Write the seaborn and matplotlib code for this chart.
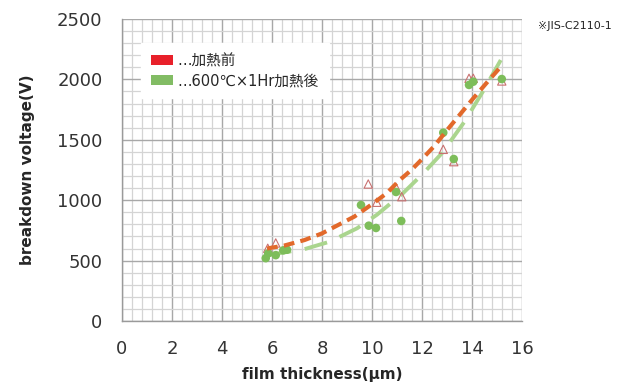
import matplotlib
matplotlib.use("Agg")
import matplotlib.pyplot as plt
from matplotlib.patches import Patch
from matplotlib.ticker import MultipleLocator
import numpy as np
import pandas as pd
import seaborn as sns

# before heating (triangles)
before_x = [5.83, 6.15, 9.85, 10.19, 10.96, 11.19, 12.85, 13.27, 13.88, 14.05, 15.19]
before_y = [602, 646, 1134, 983, 1107, 1029, 1421, 1319, 2009, 2009, 1987]

# after 600C x 1Hr heating (circles)
after_x = [5.75, 5.85, 6.15, 6.45, 6.6, 9.56, 9.87, 10.16, 10.96, 11.17, 12.85, 13.27, 13.88, 14.05, 15.19]
after_y = [520, 560, 545, 585, 590, 960, 789, 770, 1068, 828, 1559, 1341, 1954, 1981, 2003]

# trend lines
trend_before_x = [5.8, 6.5, 7.3, 8.0, 8.65, 9.3, 10.05, 10.6, 11.1, 11.6, 12.0, 12.5, 13.0, 13.5, 14.05, 14.6, 15.15]
trend_before_y = [600, 625, 670, 725, 795, 865, 974, 1060, 1165, 1255, 1340, 1450, 1580, 1705, 1843, 1975, 2105]
trend_after_x = [5.85, 6.5, 7.3, 8.3, 9.4, 10.2, 11.25, 12.05, 12.8, 13.7, 14.45, 15.15]
trend_after_y = [545, 568, 595, 656, 767, 880, 1060, 1222, 1390, 1650, 1905, 2160]

x_ticks = [0, 2, 4, 6, 8, 10, 12, 14, 16]
y_ticks = [0, 500, 1000, 1500, 2000, 2500]
legend_labels = ["…加熱前", "…600℃×1Hr加熱後"]

sns.set_style("white")
plt.rcParams['font.family'] = ['DejaVu Sans', 'Noto Sans CJK JP']

orange = "#E2692B"
green = "#7DBD5A"
light_green = "#AAD58E"
tri_edge = "#C97070"

fig = plt.figure(figsize=(6.31, 3.82), dpi=100)
ax = fig.add_axes([0.1933, 0.1597, 0.634, 0.7906])

ax.set_xlim(0, 16)
ax.set_ylim(0, 2500)
ax.xaxis.set_minor_locator(MultipleLocator(0.4))
ax.yaxis.set_minor_locator(MultipleLocator(100))
ax.set_xticks(x_ticks)
ax.set_yticks(y_ticks)
ax.grid(which="minor", color="#d4d4d4", linewidth=0.9)
ax.grid(which="major", color="#a8a8a8", linewidth=1.0)
ax.set_axisbelow(True)

df_after = pd.DataFrame({"x": after_x, "y": after_y})
df_before = pd.DataFrame({"x": before_x, "y": before_y})
tb = pd.DataFrame({"x": trend_before_x, "y": trend_before_y})
ta = pd.DataFrame({"x": trend_after_x, "y": trend_after_y})

sns.lineplot(data=ta, x="x", y="y", ax=ax, color=light_green, linewidth=2.8, sort=False, zorder=3)
ax.lines[-1].set_dashes([6, 3.5])
sns.scatterplot(data=df_before, x="x", y="y", ax=ax, marker="^", s=36,
                facecolor="none", edgecolor=tri_edge, linewidth=0.8, zorder=4)
sns.scatterplot(data=df_after, x="x", y="y", ax=ax, marker="o", s=38,
                color=green, edgecolor="none", zorder=5)
sns.lineplot(data=tb, x="x", y="y", ax=ax, color=orange, linewidth=3, sort=False, zorder=6)
ax.lines[-1].set_dashes([2.6, 1.5])

for s in ["top", "right"]:
    ax.spines[s].set_visible(False)
for s in ["left", "bottom"]:
    ax.spines[s].set_color("#9a9a9a")
    ax.spines[s].set_linewidth(1.0)
ax.tick_params(which="major", direction="out", length=4, color="#9a9a9a",
               labelsize=13, labelcolor="#333333", pad=10)
ax.tick_params(which="minor", length=0)

ax.set_xlabel("film thickness(μm)", fontsize=11, fontweight="bold", labelpad=6)
ax.set_ylabel("breakdown voltage(V)", fontsize=11, fontweight="bold", labelpad=16)

handles = [Patch(facecolor="#E8202A", edgecolor="none"),
           Patch(facecolor="#82BC64", edgecolor="none")]
leg = ax.legend(handles, legend_labels, loc="upper left", bbox_to_anchor=(0.03, 0.945),
                frameon=True, fancybox=False, edgecolor="white", framealpha=1,
                fontsize=10.5, handlelength=1.5, handleheight=0.6, handletextpad=0.3,
                borderpad=0.7, labelspacing=0.35)
leg.set_zorder(10)

fig.text(0.853, 0.925, "※JIS-C2110-1", fontsize=8, color="#222222")

fig.savefig("out.png", dpi=100)
